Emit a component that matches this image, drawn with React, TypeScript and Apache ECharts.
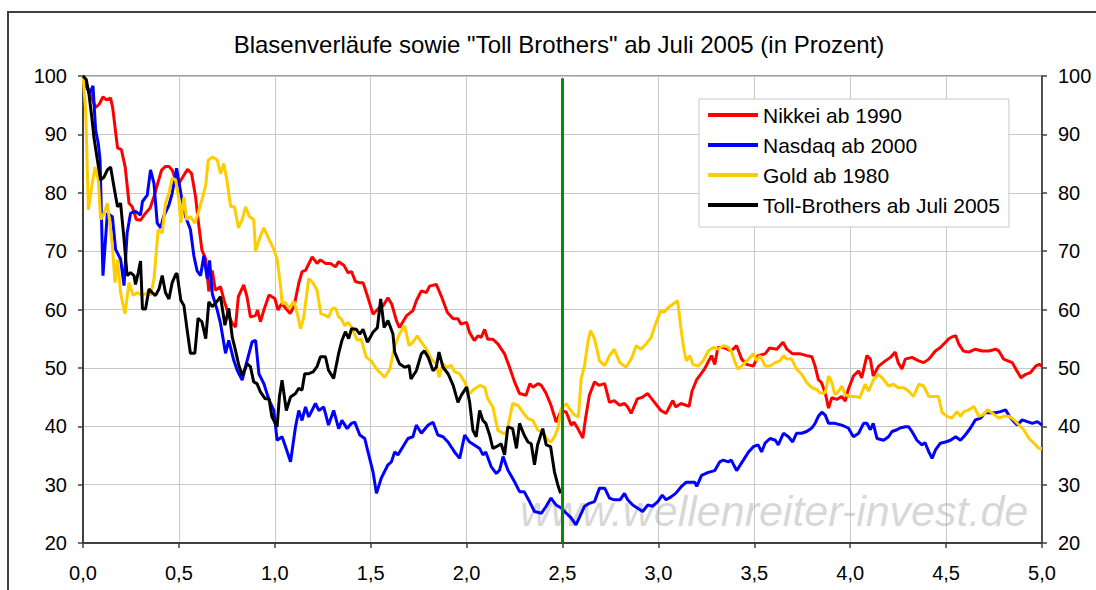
import React, { useEffect, useRef } from "react";
import * as echarts from "echarts";

const FONT = '"Liberation Sans", Arial, Helvetica, sans-serif';

const titleText = 'Blasenverläufe sowie "Toll Brothers" ab Juli 2005 (in Prozent)';
const watermarkText = "www.wellenreiter-invest.de";
const seriesNames = ["Nikkei ab 1990", "Nasdaq ab 2000", "Gold ab 1980", "Toll-Brothers ab Juli 2005"];
const seriesColors = ["#ff0000", "#0000ff", "#ffcc00", "#000000"];
const xTickValues = [0, 0.5, 1, 1.5, 2, 2.5, 3, 3.5, 4, 4.5, 5];
const xTickLabels = ["0,0", "0,5", "1,0", "1,5", "2,0", "2,5", "3,0", "3,5", "4,0", "4,5", "5,0"];
const markerLine: [number, number][] = [[2.5, 99.6], [2.5, 20]];

const nikkei: [number, number][] = [
  [0, 100], [0.03, 97.5], [0.066, 94.6], [0.085, 95.2], [0.104, 96.4], [0.122, 95.9], [0.144, 96.2], [0.155, 94.5],
  [0.17, 90.4], [0.18, 87.7], [0.2, 87.4], [0.22, 84.4], [0.24, 78.2], [0.257, 77.6], [0.278, 75.4], [0.3, 75.3],
  [0.326, 76.5], [0.35, 77.4], [0.37, 79.3], [0.387, 81.3], [0.41, 83.9], [0.43, 84.5], [0.448, 84.5], [0.465, 83.9],
  [0.48, 82.5], [0.5, 81.6], [0.526, 83], [0.545, 84], [0.566, 83.3], [0.587, 79.3], [0.6, 75.4], [0.62, 70.2],
  [0.64, 68.6], [0.656, 63.1], [0.674, 66.7], [0.69, 63.3], [0.717, 63.9], [0.735, 61.6], [0.76, 59], [0.778, 57.6],
  [0.795, 57], [0.81, 62.2], [0.838, 64.2], [0.855, 62.2], [0.873, 58.7], [0.9, 59], [0.91, 59.9], [0.925, 57.9],
  [0.943, 59.9], [0.97, 62.5], [1.0, 61.9], [1.017, 59.9], [1.035, 61], [1.055, 60.3], [1.08, 59.3], [1.1, 60.5],
  [1.125, 64.5], [1.142, 66.5], [1.16, 66.7], [1.195, 69], [1.22, 67.9], [1.238, 68.5], [1.264, 67.9], [1.29, 67.9],
  [1.316, 67.3], [1.333, 68.2], [1.36, 67.6], [1.382, 66.3], [1.4, 66.5], [1.42, 64.8], [1.44, 64.6], [1.46, 64.6],
  [1.486, 62], [1.512, 59.2], [1.538, 60.1], [1.564, 60.6], [1.59, 62], [1.61, 60.9], [1.634, 58.1], [1.65, 56.9],
  [1.686, 58.9], [1.72, 59.8], [1.738, 61.5], [1.764, 63.2], [1.79, 62.9], [1.807, 64], [1.842, 64.3], [1.868, 62.3],
  [1.9, 59.5], [1.93, 58.4], [1.955, 58.4], [1.97, 57.5], [2.0, 57.8], [2.015, 56.1], [2.04, 54.7], [2.06, 55.5],
  [2.076, 55.2], [2.094, 56.6], [2.11, 54.9], [2.137, 54.9], [2.163, 54.1], [2.198, 52.4], [2.224, 50.1], [2.25, 47.6],
  [2.276, 45.6], [2.31, 45.3], [2.33, 47.3], [2.345, 46.7], [2.372, 47.3], [2.39, 47], [2.415, 45.6], [2.44, 43.6],
  [2.467, 40.7], [2.493, 42.7], [2.52, 42.4], [2.545, 40.2], [2.56, 40.7], [2.58, 39.6], [2.606, 38], [2.62, 41.3],
  [2.64, 45.3], [2.667, 47.6], [2.69, 47], [2.72, 47.3], [2.745, 44.1], [2.77, 44.4], [2.797, 43.6], [2.823, 43.9],
  [2.84, 43.3], [2.858, 42.2], [2.89, 44.7], [2.918, 45], [2.944, 45.6], [2.98, 44.1], [3.013, 42.7], [3.04, 42.2],
  [3.075, 44.4], [3.09, 43.3], [3.118, 43.9], [3.16, 43.4], [3.175, 46], [3.2, 48], [3.24, 49.8], [3.277, 52.1],
  [3.294, 50.6], [3.31, 53.5], [3.338, 53.5], [3.38, 52.9], [3.408, 53.8], [3.434, 51.5], [3.46, 50.6], [3.495, 50.3],
  [3.52, 52.1], [3.556, 52.4], [3.58, 53.4], [3.617, 53.2], [3.65, 54.4], [3.67, 53.2], [3.7, 52.4], [3.74, 52.4],
  [3.773, 52.1], [3.8, 51.9], [3.817, 50.3], [3.834, 48], [3.85, 47.5], [3.87, 45.7], [3.887, 43.1], [3.904, 44.9],
  [3.93, 44.6], [3.956, 45.1], [3.974, 44.3], [3.99, 46.3], [4.017, 48.6], [4.044, 49.5], [4.06, 48.3], [4.087, 52.1],
  [4.105, 51.5], [4.12, 48.6], [4.148, 50.3], [4.183, 51.2], [4.21, 51.8], [4.235, 52.7], [4.25, 50.9], [4.27, 49.8],
  [4.287, 51.5], [4.322, 51.8], [4.357, 51.2], [4.383, 50.9], [4.41, 51.5], [4.444, 52.9], [4.47, 53.5], [4.497, 54.4],
  [4.514, 55], [4.53, 55.3], [4.55, 55.5], [4.566, 54.1], [4.59, 52.9], [4.618, 52.7], [4.653, 53.2], [4.688, 52.9],
  [4.723, 52.9], [4.758, 53.2], [4.775, 52.9], [4.8, 51.5], [4.845, 50.9], [4.86, 50], [4.89, 48.3], [4.915, 48.9],
  [4.94, 49.2], [4.967, 50.3], [4.985, 50.6], [5.0, 50.3],
];

const nasdaq: [number, number][] = [
  [0, 100], [0.02, 98], [0.035, 97], [0.052, 98.3], [0.066, 90.7], [0.08, 88.4], [0.089, 85.6], [0.104, 65.8],
  [0.127, 76.5], [0.153, 75.9], [0.17, 70.3], [0.196, 68.6], [0.214, 64.1], [0.23, 73.1], [0.248, 76.5], [0.274, 76.8],
  [0.3, 76.2], [0.31, 78.5], [0.335, 79.6], [0.352, 83.9], [0.37, 81.6], [0.387, 74.8], [0.405, 74], [0.42, 75.9],
  [0.448, 77.9], [0.465, 79.9], [0.488, 84.2], [0.51, 79.9], [0.535, 75.9], [0.56, 73.7], [0.578, 69.2], [0.595, 66.6],
  [0.613, 65.8], [0.63, 69.2], [0.648, 65.2], [0.66, 68.4], [0.674, 62.7], [0.7, 59.9], [0.717, 57.6], [0.743, 52.5],
  [0.76, 54.7], [0.786, 51.3], [0.804, 49.6], [0.83, 47.9], [0.856, 51.3], [0.882, 54.5], [0.9, 54.7], [0.917, 49],
  [0.943, 47.3], [0.97, 44.5], [0.995, 42.7], [1.012, 37.6], [1.038, 38.2], [1.056, 36.5], [1.082, 33.9], [1.108, 39.9],
  [1.125, 42.7], [1.142, 41], [1.16, 43.3], [1.177, 41.6], [1.212, 43.9], [1.23, 42.7], [1.255, 43.3], [1.28, 40.2],
  [1.307, 42.7], [1.333, 39.6], [1.35, 41], [1.377, 39.6], [1.4, 40.5], [1.417, 40.7], [1.443, 38.5], [1.469, 37.9],
  [1.486, 35.6], [1.512, 32.2], [1.53, 28.5], [1.555, 31.1], [1.59, 33.4], [1.608, 33.9], [1.625, 35.6], [1.642, 35.1],
  [1.668, 36.5], [1.694, 37.9], [1.72, 38.2], [1.738, 40.2], [1.764, 38.8], [1.8, 40.2], [1.825, 40.7], [1.85, 38.5],
  [1.877, 38.2], [1.903, 37.3], [1.937, 35.6], [1.964, 34.5], [1.99, 38.5], [2.016, 37.3], [2.04, 36.8], [2.068, 36.2],
  [2.085, 35.1], [2.1, 35.6], [2.128, 33.1], [2.155, 31.9], [2.172, 32.5], [2.19, 34.8], [2.215, 32.5], [2.25, 30.5],
  [2.276, 28.8], [2.3, 28.8], [2.328, 27.1], [2.354, 25.4], [2.39, 25.1], [2.415, 26.3], [2.44, 27.7], [2.467, 26.5],
  [2.493, 26], [2.52, 25.1], [2.545, 24.3], [2.57, 23.1], [2.59, 24.5], [2.615, 26.3], [2.64, 26.8], [2.667, 27.1],
  [2.693, 29.4], [2.72, 29.4], [2.745, 27.7], [2.77, 27.4], [2.8, 27.4], [2.823, 28.5], [2.84, 27.4], [2.866, 26.5],
  [2.89, 26], [2.918, 25.4], [2.944, 26.5], [2.97, 26.3], [2.997, 27.1], [3.02, 28.2], [3.04, 27.4], [3.066, 27.9],
  [3.09, 28.5], [3.118, 29.6], [3.144, 30.4], [3.17, 30.4], [3.19, 30.4], [3.2, 29.7], [3.225, 31.6], [3.26, 32.1],
  [3.294, 32.4], [3.32, 33.9], [3.338, 34.2], [3.364, 33.9], [3.38, 34.2], [3.408, 32.4], [3.443, 34.2], [3.47, 35.6],
  [3.495, 36.5], [3.52, 36.8], [3.538, 35.6], [3.556, 37.1], [3.582, 37.9], [3.61, 37.6], [3.625, 36.8], [3.652, 38.8],
  [3.678, 38.2], [3.7, 37.3], [3.72, 38.8], [3.747, 38.8], [3.773, 39.1], [3.8, 39.7], [3.817, 40.5], [3.834, 41.7],
  [3.852, 42.4], [3.87, 41.9], [3.887, 40.5], [3.92, 40.5], [3.956, 40.2], [3.99, 39.7], [4.017, 38.2], [4.044, 38.8],
  [4.07, 40.5], [4.087, 40.5], [4.105, 39.4], [4.12, 40.5], [4.14, 37.9], [4.174, 37.6], [4.2, 38.2], [4.218, 39.1],
  [4.244, 39.4], [4.26, 39.7], [4.287, 39.9], [4.305, 39.9], [4.322, 39.1], [4.348, 37.6], [4.374, 36.8], [4.39, 37.2],
  [4.41, 35.6], [4.427, 34.5], [4.444, 35.9], [4.47, 37.1], [4.497, 37.3], [4.523, 37.6], [4.55, 38.2], [4.575, 37.6],
  [4.6, 38.5], [4.627, 39.7], [4.653, 41.1], [4.68, 41.4], [4.705, 42.3], [4.73, 42.3], [4.758, 42.3], [4.784, 42.5],
  [4.81, 42.8], [4.836, 41.4], [4.87, 40.2], [4.897, 41.1], [4.923, 40.8], [4.95, 40.5], [4.976, 40.8], [5.0, 40.2],
];

const gold: [number, number][] = [
  [0, 100], [0.014, 94], [0.028, 77.1], [0.045, 81], [0.063, 84.4], [0.08, 82.2], [0.092, 75.4], [0.11, 76.5],
  [0.127, 78.2], [0.14, 74.8], [0.153, 70.9], [0.167, 64.6], [0.18, 68.6], [0.196, 62.9], [0.219, 59.3], [0.24, 64.6],
  [0.262, 62.4], [0.283, 62.9], [0.31, 62.4], [0.335, 62.9], [0.352, 62.4], [0.37, 65.2], [0.392, 73.7], [0.413, 73.1],
  [0.43, 78.2], [0.448, 79.9], [0.465, 82.5], [0.483, 82.2], [0.5, 78.8], [0.51, 74.8], [0.526, 79.3], [0.54, 75.4],
  [0.56, 75.9], [0.583, 74.8], [0.6, 76.5], [0.62, 78.8], [0.64, 81.3], [0.653, 85.6], [0.674, 86.1], [0.7, 85.6],
  [0.717, 83.3], [0.734, 85], [0.75, 82.2], [0.77, 77.6], [0.79, 77.6], [0.81, 74], [0.83, 75.4], [0.847, 77.6],
  [0.868, 75.9], [0.89, 75.4], [0.9, 70], [0.925, 72.6], [0.943, 74], [0.97, 72], [0.995, 70.3], [1.012, 68.6],
  [1.03, 64], [1.038, 61], [1.055, 61.2], [1.073, 60.2], [1.1, 61.4], [1.117, 59.3], [1.134, 56.7], [1.15, 58.5],
  [1.177, 65.3], [1.2, 64.5], [1.22, 63.3], [1.24, 59.3], [1.264, 59], [1.28, 58.7], [1.3, 60.2], [1.316, 60.2],
  [1.333, 58.7], [1.347, 58.4], [1.365, 57.2], [1.382, 57.8], [1.4, 57], [1.43, 54.7], [1.45, 54.9], [1.477, 51.8],
  [1.503, 51.2], [1.53, 49.8], [1.555, 49], [1.573, 48.4], [1.6, 49.8], [1.625, 53.8], [1.65, 55.8], [1.677, 57.2],
  [1.7, 53.8], [1.72, 54.4], [1.743, 55.5], [1.764, 54.4], [1.79, 53.2], [1.816, 51.5], [1.842, 50.7], [1.856, 48.4],
  [1.877, 50.7], [1.894, 50.1], [1.92, 50.4], [1.938, 49.3], [1.963, 49], [1.99, 47.6], [2.016, 45.6], [2.04, 46.4],
  [2.068, 47], [2.094, 46.7], [2.11, 44.7], [2.137, 43.3], [2.163, 39.3], [2.19, 38.8], [2.207, 38.8], [2.224, 41.3],
  [2.24, 43.9], [2.267, 43.6], [2.293, 42.4], [2.32, 41.3], [2.345, 41], [2.372, 39.3], [2.397, 39], [2.424, 37.6],
  [2.44, 37.3], [2.458, 38.2], [2.476, 39.6], [2.493, 43], [2.52, 43.9], [2.536, 43], [2.563, 41.9], [2.583, 41.6],
  [2.597, 48.1], [2.615, 50.4], [2.632, 54.4], [2.646, 56.4], [2.667, 55], [2.693, 51.2], [2.72, 50.4], [2.745, 52.1],
  [2.77, 53.2], [2.797, 51], [2.83, 50.1], [2.858, 51.5], [2.884, 53.8], [2.91, 53.2], [2.936, 54.1], [2.962, 55.2],
  [2.988, 57.8], [3.013, 59.8], [3.03, 59.5], [3.05, 60.3], [3.075, 60.9], [3.1, 61.5], [3.118, 56.6], [3.135, 52.7],
  [3.146, 51.2], [3.164, 52.1], [3.18, 50.6], [3.207, 50.3], [3.233, 51.2], [3.26, 52.9], [3.286, 53.5], [3.31, 53.2],
  [3.338, 53.8], [3.364, 53.5], [3.38, 52.9], [3.4, 50.9], [3.416, 49.8], [3.443, 50.6], [3.47, 51.5], [3.495, 52.4],
  [3.512, 51.2], [3.53, 52.1], [3.556, 50.3], [3.582, 50.3], [3.608, 50.9], [3.634, 51.2], [3.652, 52.1], [3.67, 51.5],
  [3.695, 51.5], [3.72, 49.8], [3.747, 48.9], [3.773, 47.5], [3.8, 46.6], [3.826, 46.3], [3.843, 45.7], [3.87, 45.7],
  [3.887, 48.6], [3.904, 47.5], [3.92, 45.4], [3.94, 46], [3.956, 46.9], [3.974, 45.4], [4.0, 45.1], [4.026, 45.1],
  [4.05, 44.9], [4.078, 47.2], [4.095, 46], [4.122, 48], [4.148, 48.9], [4.174, 48], [4.2, 46.9], [4.226, 47.2],
  [4.25, 46.6], [4.28, 46.6], [4.305, 46], [4.33, 45.1], [4.357, 47.2], [4.383, 46.9], [4.41, 45.1], [4.435, 45.1],
  [4.46, 45.1], [4.48, 42.3], [4.505, 41.7], [4.53, 41.4], [4.557, 42.5], [4.575, 41.7], [4.592, 42.5], [4.618, 42.8],
  [4.645, 43.4], [4.67, 41.7], [4.697, 42], [4.714, 42.8], [4.74, 42.3], [4.775, 41.4], [4.8, 41.7], [4.828, 41.7],
  [4.854, 41.1], [4.88, 40.2], [4.905, 39.4], [4.932, 37.9], [4.958, 37.1], [4.984, 36.2], [5.0, 36.2],
];

const toll: [number, number][] = [
  [0, 100], [0.017, 99.4], [0.031, 96.9], [0.045, 93.2], [0.057, 89.5], [0.075, 85.6], [0.092, 82.2], [0.11, 82.7],
  [0.127, 83.9], [0.144, 84.4], [0.16, 81.3], [0.18, 77.6], [0.196, 78.2], [0.214, 72], [0.23, 65.8], [0.248, 66.3],
  [0.266, 65.8], [0.274, 64.3], [0.288, 66.3], [0.3, 68.3], [0.31, 60.1], [0.326, 60.1], [0.344, 63.5], [0.36, 62.9],
  [0.378, 62.4], [0.396, 63.5], [0.413, 65.8], [0.43, 62.9], [0.448, 61.8], [0.465, 64.6], [0.483, 66], [0.49, 66.2],
  [0.51, 61.6], [0.526, 60.7], [0.543, 56.5], [0.56, 52.5], [0.583, 52.5], [0.6, 58.5], [0.62, 57.9], [0.64, 55],
  [0.656, 61.3], [0.674, 60.5], [0.69, 61], [0.717, 62.2], [0.74, 57.3], [0.76, 60.2], [0.778, 55.3], [0.795, 53],
  [0.812, 50.5], [0.83, 48.7], [0.856, 50.7], [0.873, 50.2], [0.89, 47.6], [0.907, 47.3], [0.925, 45.9], [0.95, 44.7],
  [0.97, 44.7], [0.985, 41.6], [1.012, 39.9], [1.024, 45], [1.038, 47.9], [1.06, 42.7], [1.082, 45], [1.108, 45.6],
  [1.125, 46.5], [1.142, 46.2], [1.156, 49], [1.177, 49], [1.2, 49.3], [1.22, 50.2], [1.238, 51.9], [1.264, 51.9],
  [1.28, 49.6], [1.307, 48.2], [1.333, 52.5], [1.35, 54.7], [1.368, 56.2], [1.385, 55], [1.4, 56.7], [1.425, 56.6],
  [1.443, 55.8], [1.46, 56.6], [1.483, 54.4], [1.512, 56.1], [1.535, 56.9], [1.552, 61.8], [1.57, 56.9], [1.59, 58.1],
  [1.616, 55.8], [1.625, 52.7], [1.65, 50.7], [1.677, 50.1], [1.7, 50.4], [1.71, 48.1], [1.738, 49.5], [1.764, 52.4],
  [1.78, 52.9], [1.8, 51.8], [1.825, 49.5], [1.842, 50.1], [1.856, 52.7], [1.877, 50.1], [1.903, 49], [1.93, 47],
  [1.955, 44.1], [1.972, 45.3], [2.0, 46.7], [2.016, 44.1], [2.033, 39.3], [2.05, 38.2], [2.068, 42.7], [2.085, 41],
  [2.1, 40.5], [2.12, 38.5], [2.137, 36.2], [2.155, 36.5], [2.18, 37], [2.198, 35.1], [2.215, 39.9], [2.24, 39.6],
  [2.26, 36.2], [2.276, 40.5], [2.3, 38.5], [2.32, 37.3], [2.337, 37], [2.354, 33.4], [2.37, 36.8], [2.397, 39.6],
  [2.415, 36.8], [2.438, 36.5], [2.458, 32.2], [2.476, 29.9], [2.49, 28.5],
];

const seriesData = [nikkei, nasdaq, gold, toll];

export default function App() {
  const ref = useRef<HTMLDivElement>(null);

  useEffect(() => {
    if (!ref.current) return;
    const chart = echarts.init(ref.current, undefined, { renderer: "svg" });

    const yAxisBase = {
      type: "value" as const,
      min: 20,
      max: 100,
      interval: 10,
      axisLine: { show: true, lineStyle: { color: "#404040", width: 2 } },
      axisTick: { show: true, inside: false, length: 5, lineStyle: { color: "#404040", width: 1.5 } },
      axisLabel: { fontSize: 20, fontFamily: FONT, color: "#000", margin: 16 },
    };

    const option: any = {
      animation: false,
      backgroundColor: "#ffffff",
      textStyle: { fontFamily: FONT },
      grid: {
        left: 83,
        right: 54,
        top: 76,
        bottom: 47,
        show: true,
        borderColor: "#808080",
        borderWidth: 1.5,
        backgroundColor: "transparent",
      },
      legend: {
        orient: "vertical",
        left: 699,
        top: 99,
        padding: [5, 9, 11, 9],
        itemGap: 8,
        itemWidth: 50,
        itemHeight: 4,
        icon: "rect",
        backgroundColor: "#ffffff",
        borderColor: "#c8c8c8",
        borderWidth: 1,
        borderRadius: 0,
        selectedMode: false,
        textStyle: { fontSize: 21, fontFamily: FONT, color: "#000", lineHeight: 22 },
        data: seriesNames,
      },
      xAxis: {
        type: "value",
        min: 0,
        max: 5,
        interval: 0.5,
        axisLine: { show: true, onZero: false, lineStyle: { color: "#404040", width: 2 } },
        axisTick: { show: true, inside: false, length: 5, lineStyle: { color: "#404040", width: 1.5 } },
        axisLabel: {
          fontSize: 20,
          fontFamily: FONT,
          color: "#000",
          margin: 20,
          formatter: (v: number) => {
            const i = xTickValues.findIndex((t) => Math.abs(t - v) < 1e-6);
            return i >= 0 ? xTickLabels[i] : "";
          },
        },
        splitLine: { show: true, lineStyle: { color: "#c8c8c8", width: 1 } },
      },
      yAxis: [
        {
          ...yAxisBase,
          position: "left",
          splitLine: { show: true, lineStyle: { color: "#c8c8c8", width: 1 } },
        },
        {
          ...yAxisBase,
          position: "right",
          axisLine: { show: true, lineStyle: { color: "#303030", width: 1.5 } },
          splitLine: { show: false },
        },
      ],
      graphic: [
        {
          type: "rect",
          z: 0,
          silent: true,
          shape: { x: 8, y: 12, width: 1300, height: 800 },
          style: { fill: "none", stroke: "#404040", lineWidth: 2 },
        },
        {
          type: "text",
          z: 0,
          silent: true,
          x: 559,
          y: 44,
          style: {
            text: titleText,
            fontSize: 24,
            fontFamily: FONT,
            fill: "#000",
            align: "center",
            verticalAlign: "middle",
          },
        },
        {
          type: "text",
          z: 1,
          silent: true,
          x: 520,
          y: 511,
          style: {
            text: watermarkText,
            fontSize: 43,
            fontStyle: "italic",
            fontFamily: FONT,
            fill: "rgba(150,150,150,0.38)",
            align: "left",
            verticalAlign: "middle",
          },
        },
      ],
      series: [
        ...seriesData.map((d, i) => ({
          name: seriesNames[i],
          type: "line",
          data: d,
          showSymbol: false,
          symbol: "none",
          color: seriesColors[i],
          lineStyle: { color: seriesColors[i], width: 3 },
          z: 3 + i,
        })),
        {
          name: "Juli 2005 + 2,5 Jahre",
          type: "line",
          data: markerLine,
          showSymbol: false,
          symbol: "none",
          color: "#008000",
          lineStyle: { color: "#0a8a0a", width: 3 },
          z: 10,
        },
      ],
    };

    chart.setOption(option);
    return () => chart.dispose();
  }, []);

  return (
    <div
      ref={ref}
      style={{ position: "absolute", left: 0, top: 0, width: 1096, height: 590, background: "#fff" }}
    />
  );
}
